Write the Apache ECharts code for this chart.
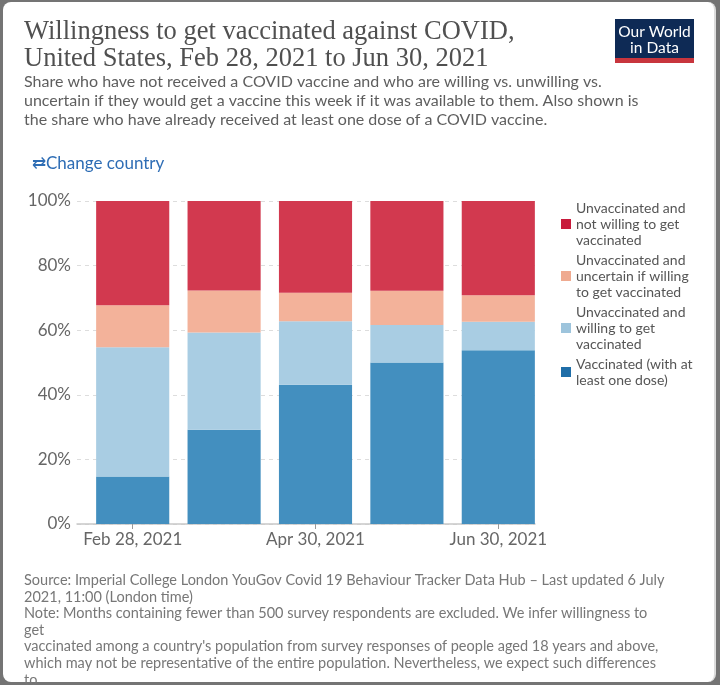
<!DOCTYPE html>
<html>
<head>
<meta charset="utf-8">
<script src="https://cdn.jsdelivr.net/npm/echarts@6/dist/echarts.min.js"></script>
<style>
html,body{margin:0;padding:0;width:720px;height:685px;overflow:hidden;background:#747474;}
#frame{position:absolute;left:3px;top:2px;width:711px;height:680px;background:#fff;border-radius:8px;border-right:2px solid #dcdcdc;}
#chart{position:absolute;left:0;top:0;width:720px;height:685px;}
</style>
</head>
<body>
<div id="frame"></div>
<div id="chart"></div>
<script>
const categories = ['Feb 28, 2021', 'Mar 31, 2021', 'Apr 30, 2021', 'May 31, 2021', 'Jun 30, 2021'];
const vaccinated = [14.7, 29.2, 43.1, 50.0, 53.8];
const willing = [40.0, 30.1, 19.7, 11.6, 8.8];
const uncertain = [13.0, 13.0, 8.8, 10.6, 8.2];
const unwilling = [32.3, 27.7, 28.4, 27.8, 29.2];
const yTicks = [0, 20, 40, 60, 80, 100];

const names = {
  unwilling: 'Unvaccinated and\nnot willing to get\nvaccinated',
  uncertain: 'Unvaccinated and\nuncertain if willing\nto get vaccinated',
  willing: 'Unvaccinated and\nwilling to get\nvaccinated',
  vaccinated: 'Vaccinated (with at\nleast one dose)'
};
const barColors = { vaccinated: '#438fbf', willing: '#a9cde3', uncertain: '#f3b29a', unwilling: '#d2394f' };
const legColors = { vaccinated: '#1f6ea8', willing: '#9dc4dc', uncertain: '#efaa90', unwilling: '#c81b3c' };

const chart = echarts.init(document.getElementById('chart'));
const font = 'Lato';
function bar(key, data) {
  return {
    name: names[key], type: 'bar', stack: 'total', xAxisIndex: 1, yAxisIndex: 1,
    data: data, barCategoryGap: '20%', itemStyle: { color: barColors[key] }
  };
}
const option = {
  animation: false,
  title: [
    { text: 'Willingness to get vaccinated against COVID,\nUnited States, Feb 28, 2021 to Jun 30, 2021',
      left: 24, top: 19, padding: 0,
      textStyle: { fontFamily: 'Liberation Serif', fontSize: 26.5, lineHeight: 26.5, color: '#505050', fontWeight: 'normal' } },
    { text: 'Share who have not received a COVID vaccine and who are willing vs. unwilling vs.\nuncertain if they would get a vaccine this week if it was available to them. Also shown is\nthe share who have already received at least one dose of a COVID vaccine.',
      left: 24, top: 72, padding: 0,
      textStyle: { fontFamily: font, fontSize: 16, lineHeight: 19, color: '#5e5e5e', fontWeight: 'normal' } },
    { text: '\u21C4Change country', left: 32, top: 155, padding: 0,
      textStyle: { fontFamily: font, fontSize: 17, lineHeight: 18, color: '#2e6db5', fontWeight: 'normal' } },
    { text: 'Source: Imperial College London YouGov Covid 19 Behaviour Tracker Data Hub \u2013 Last updated 6 July\n2021, 11:00 (London time)\nNote: Months containing fewer than 500 survey respondents are excluded. We infer willingness to\nget\nvaccinated among a country\'s population from survey responses of people aged 18 years and above,\nwhich may not be representative of the entire population. Nevertheless, we expect such differences\nto',
      left: 24, top: 572, padding: 0,
      textStyle: { fontFamily: font, fontSize: 14.5, lineHeight: 16.6, color: '#777', fontWeight: 'normal' } }
  ],
  graphic: [
    { type: 'rect', shape: { x: 615, y: 19, width: 79, height: 44 }, style: { fill: '#0e2a55' } },
    { type: 'rect', shape: { x: 615, y: 58, width: 79, height: 5 }, style: { fill: '#c8353d' } },
    { type: 'text', x: 654.5, y: 40, style: { text: 'Our World\nin Data', fill: '#fff', font: '15.5px Lato', lineHeight: 16, align: 'center', verticalAlign: 'middle' } }
  ],
  legend: {
    orient: 'vertical', left: 561, top: 200, padding: 0, itemGap: 4,
    itemWidth: 10, itemHeight: 10, icon: 'rect', selectedMode: false,
    textStyle: { fontFamily: font, fontSize: 14, lineHeight: 16, color: '#555' },
    data: ['unwilling', 'uncertain', 'willing', 'vaccinated'].map(k => ({ name: names[k], itemStyle: { color: legColors[k] } }))
  },
  grid: [
    { left: 77, right: 185, top: 201, bottom: 161 },
    { left: 87, right: 176, top: 201, bottom: 161 }
  ],
  xAxis: [
    { gridIndex: 0, type: 'value', min: 0, max: 1,
      axisLine: { show: true, lineStyle: { color: '#c8c8c8', width: 1.5 } },
      axisTick: { show: false }, axisLabel: { show: false }, splitLine: { show: false } },
    { gridIndex: 1, type: 'category', data: categories,
      axisLine: { show: false },
      axisTick: { show: true, alignWithLabel: true, interval: 1, length: 5, lineStyle: { color: '#999' } },
      axisLabel: { interval: 1, fontFamily: font, fontSize: 17, color: '#666', margin: 7 } }
  ],
  yAxis: [
    { gridIndex: 0, type: 'value', min: 0, max: 100, interval: 20,
      axisLine: { show: false }, axisTick: { show: false },
      axisLabel: { formatter: v => yTicks.includes(v) ? v + '%' : '', fontFamily: font, fontSize: 17, color: '#666', margin: 6 },
      splitLine: { lineStyle: { color: '#ddd', type: [4, 4] } } },
    { gridIndex: 1, type: 'value', min: 0, max: 100, show: false, splitLine: { show: false } }
  ],
  series: [
    bar('vaccinated', vaccinated),
    bar('willing', willing),
    bar('uncertain', uncertain),
    bar('unwilling', unwilling)
  ]
};
chart.setOption(option);
</script>
</body>
</html>
